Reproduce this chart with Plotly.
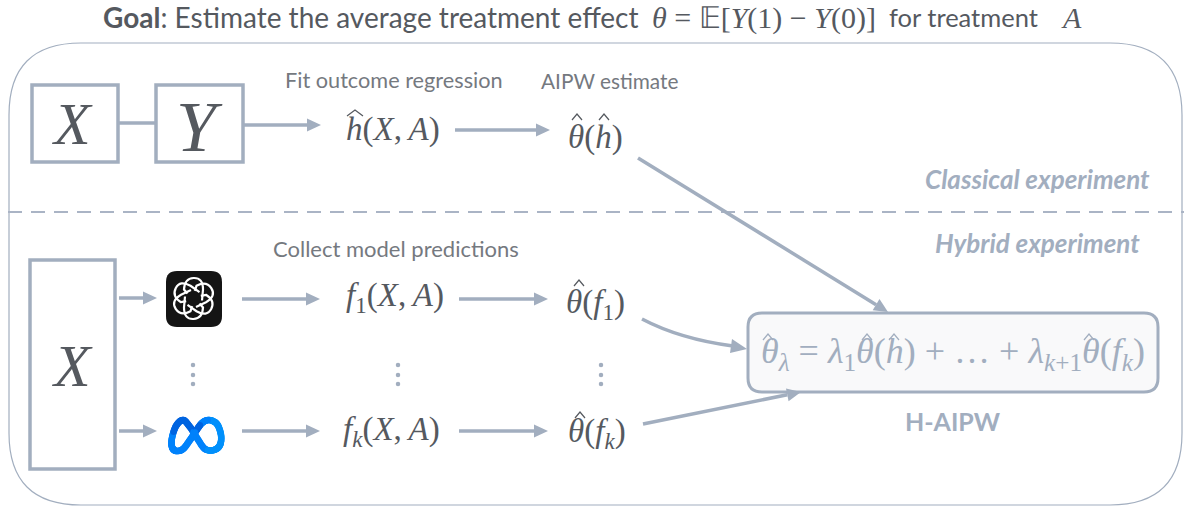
import math
import plotly.graph_objects as go

SLATE = "#a2aebf"
INK = "#55595f"
SANS = "Lato"
SERIF = "Liberation Serif"

# text labels
label_texts = ["Fit outcome regression", "AIPW estimate", "Collect model predictions"]
label_xs = [394, 609, 396]
label_ys = [80, 80, 248]
label_sizes = [21.7, 20.8, 22]

TH = "<i>θ</i>"
math_texts = ["<i>h</i>(<i>X</i>,\u2009<i>A</i>)", TH + "(<i>h</i>)",
              "<i>f</i><sub>1</sub>(<i>X</i>,\u2009<i>A</i>)", TH + "(<i>f</i><sub>1</sub>)",
              "<i>f<sub>k</sub></i>(<i>X</i>,\u2009<i>A</i>)", TH + "(<i>f<sub>k</sub></i>)"]
math_xs = [393, 595, 395, 595, 391, 597]
math_ys = [129, 137, 297, 304, 431, 433]

# hats over the thetas and the h's
hat_xs = [355, 577, 604, 579, 580, 768, 867, 894, 1089]
hat_ys = [113, 117, 117, 283, 415, 337, 337, 337, 337]
hat_half = [8, 5, 5, 5, 5, 5, 5, 5, 5]
hat_colors = [INK, INK, INK, INK, INK, SLATE, SLATE, SLATE, SLATE]

big_letters = ["<i>X</i>", "<i>Y</i>", "<i>X</i>"]
big_xs = [72, 199, 72]
big_ys = [124, 127, 366]
big_sizes = [60, 72, 60]

side_texts = ["<b><i>Classical experiment</i></b>", "<b><i>Hybrid experiment</i></b>"]
side_xs = [1037, 1037]
side_ys = [179, 243]

# boxes: x0, y0, x1, y1
box_x0 = [32, 156, 30]
box_y0 = [85, 85, 260]
box_x1 = [118, 243, 115]
box_y1 = [162, 162, 469]

# straight arrows: start and tip
arrow_x0 = [243, 455, 119, 119, 242, 459, 242, 459, 638, 643]
arrow_y0 = [125, 130, 298, 431, 299, 299, 431, 431, 158, 424]
arrow_x1 = [321, 550, 157, 157, 320, 548, 320, 548, 888, 801]
arrow_y1 = [125, 130, 298, 431, 299, 299, 431, 431, 312, 392]

dot_xs = [193, 193, 193, 398, 398, 398, 601, 601, 601]
dot_ys = [365, 375, 384, 365, 375, 384, 365, 375, 384]

# meta loop, centre line
meta_xs = [172, 176, 183, 190, 197, 205, 214, 220, 221, 217, 209, 202, 196, 190, 183, 176, 172]
meta_ys = [438, 426, 420, 427, 438, 449, 450, 445, 435, 424, 420, 423, 431, 440, 449, 451, 447]


def arrow(x0, y0, x1, y1, head=14, half=6.5):
    d = math.hypot(x1 - x0, y1 - y0)
    ux, uy = (x1 - x0) / d, (y1 - y0) / d
    bx, by = x1 - ux * head, y1 - uy * head
    line = dict(type="line", x0=x0, y0=y0, x1=bx, y1=by, line=dict(color=SLATE, width=3.5))
    tip = f"M{x1},{y1} L{bx - uy * half},{by + ux * half} L{bx + uy * half},{by - ux * half} Z"
    return [line, dict(type="path", path=tip, fillcolor=SLATE, line=dict(width=0))]


def rounded(x0, y0, x1, y1, r):
    return (f"M{x0 + r},{y0} L{x1 - r},{y0} Q{x1},{y0} {x1},{y0 + r} L{x1},{y1 - r} Q{x1},{y1} {x1 - r},{y1} "
            f"L{x0 + r},{y1} Q{x0},{y1} {x0},{y1 - r} L{x0},{y0 + r} Q{x0},{y0} {x0 + r},{y0} Z")


shapes = []
shapes.append(dict(type="path", path=rounded(9, 43, 1182, 505, 72), line=dict(color=SLATE, width=1.2)))
shapes.append(dict(type="line", x0=8, y0=212, x1=1184, y1=212, line=dict(color="#aab4c5", width=2, dash="14px,9px")))
for i in range(3):
    shapes.append(dict(type="rect", x0=box_x0[i], y0=box_y0[i], x1=box_x1[i], y1=box_y1[i],
                       line=dict(color=SLATE, width=3.5)))
shapes.append(dict(type="line", x0=118, y0=123, x1=156, y1=123, line=dict(color=SLATE, width=3.5)))
shapes.append(dict(type="path", path=rounded(748, 313, 1158, 392, 14), fillcolor="#f9f9fa",
                   line=dict(color=SLATE, width=3)))
for i in range(len(arrow_x0)):
    shapes += arrow(arrow_x0[i], arrow_y0[i], arrow_x1[i], arrow_y1[i])
# curved arrow into the H-AIPW box
shapes.append(dict(type="path", path="M642,319 Q680,339 733,346", line=dict(color=SLATE, width=3.5)))
shapes.append(dict(type="path", path="M747,349 L732,339 L730,353 Z", fillcolor=SLATE, line=dict(width=0)))

for i in range(len(hat_xs)):
    hx, hy, hw = hat_xs[i], hat_ys[i], hat_half[i]
    shapes.append(dict(type="path", path=f"M{hx - hw},{hy + 3} L{hx},{hy - 3} L{hx + hw},{hy + 3}",
                       line=dict(color=hat_colors[i], width=1.2)))

# chat logo
shapes.append(dict(type="path", path=rounded(166, 271, 222, 327, 11), fillcolor="#141414", line=dict(width=0)))
cx, cy = 193.5, 298.5
for k in range(6):
    a = math.radians(60 * k + 30)
    c, s = math.cos(a), math.sin(a)
    pts = [(-2, 8.5), (9, 9.5), (21, 9.5), (20.5, 0), (20, -9), (9, -9.5), (5, -6)]
    p = [(cx + x * c - y * s, cy + x * s + y * c) for x, y in pts]
    path = (f"M{p[0][0]:.1f},{p[0][1]:.1f} L{p[1][0]:.1f},{p[1][1]:.1f} "
            f"Q{p[2][0]:.1f},{p[2][1]:.1f} {p[3][0]:.1f},{p[3][1]:.1f} "
            f"Q{p[4][0]:.1f},{p[4][1]:.1f} {p[5][0]:.1f},{p[5][1]:.1f} L{p[6][0]:.1f},{p[6][1]:.1f}")
    shapes.append(dict(type="path", path=path, line=dict(color="white", width=2.2)))

ann = []


def text(s, x, y, size, color, family=SERIF):
    ann.append(dict(text=s, x=x, y=y, xanchor="center", yanchor="middle", showarrow=False,
                    font=dict(size=size, color=color, family=family)))


ann.append(dict(text="<b>Goal</b>: Estimate the average treatment effect", x=101, y=16.5, xanchor="left",
                yanchor="middle", showarrow=False, font=dict(size=28, color=INK, family=SANS)))
ann.append(dict(text="<i>θ</i> = 𝔼[<i>Y</i>(1) − <i>Y</i>(0)]", x=650, y=17.5, xanchor="left", yanchor="middle",
                showarrow=False, font=dict(size=30, color=INK, family=SERIF)))
ann.append(dict(text="for treatment", x=887, y=16.5, xanchor="left", yanchor="middle",
                showarrow=False, font=dict(size=25.5, color=INK, family=SANS)))
ann.append(dict(text="<i>A</i>", x=1059, y=17.5, xanchor="left", yanchor="middle",
                showarrow=False, font=dict(size=30, color=INK, family=SERIF)))

for i in range(len(label_texts)):
    text(label_texts[i], label_xs[i], label_ys[i], label_sizes[i], "#75797f", SANS)
for i in range(len(math_texts)):
    text(math_texts[i], math_xs[i], math_ys[i], 33, INK)
for i in range(len(big_letters)):
    text(big_letters[i], big_xs[i], big_ys[i], big_sizes[i], INK)
for i in range(len(side_texts)):
    text(side_texts[i], side_xs[i], side_ys[i], 26, SLATE, SANS)

text(TH + "<sub><i>λ</i></sub> = <i>λ</i><sub>1</sub>" + TH + "(<i>h</i>) + … + <i>λ</i><sub><i>k</i>+1</sub>" + TH + "(<i>f<sub>k</sub></i>)",
     953, 353, 36, SLATE)
text("<b>H-AIPW</b>", 953, 421, 25, SLATE, SANS)

fig = go.Figure()
fig.add_trace(go.Scatter(x=dot_xs, y=dot_ys, mode="markers", marker=dict(size=4.5, color=SLATE), hoverinfo="skip"))

# meta logo: closed Catmull-Rom through the centre line with a blue gradient
mx, my, mc = [], [], []
n = len(meta_xs)
for i in range(n):
    p0 = (meta_xs[i - 1], meta_ys[i - 1])
    p1 = (meta_xs[i], meta_ys[i])
    p2 = (meta_xs[(i + 1) % n], meta_ys[(i + 1) % n])
    p3 = (meta_xs[(i + 2) % n], meta_ys[(i + 2) % n])
    for j in range(12):
        t = j / 12
        v = []
        for a, b, c, d in zip(p0, p1, p2, p3):
            v.append(0.5 * (2 * b + (c - a) * t + (2 * a - 5 * b + 4 * c - d) * t * t + (3 * b - a - 3 * c + d) * t ** 3))
        mx.append(v[0])
        my.append(v[1])
        mc.append("#0064e0" if v[1] < 432 and v[0] < 200 else "#0082fb" if v[0] < 208 else "#0090fb")
fig.add_trace(go.Scatter(x=mx, y=my, mode="markers", marker=dict(size=6.5, color=mc), hoverinfo="skip"))

fig.update_layout(width=1184, height=506, margin=dict(l=0, r=0, t=0, b=0), showlegend=False,
                  paper_bgcolor="white", plot_bgcolor="white", shapes=shapes, annotations=ann)
fig.update_xaxes(range=[0, 1184], visible=False)
fig.update_yaxes(range=[506, 0], visible=False)
fig.write_html("out.html", config=dict(displayModeBar=False),
               post_script="document.body.style.margin='0';document.body.style.overflow='hidden';")
